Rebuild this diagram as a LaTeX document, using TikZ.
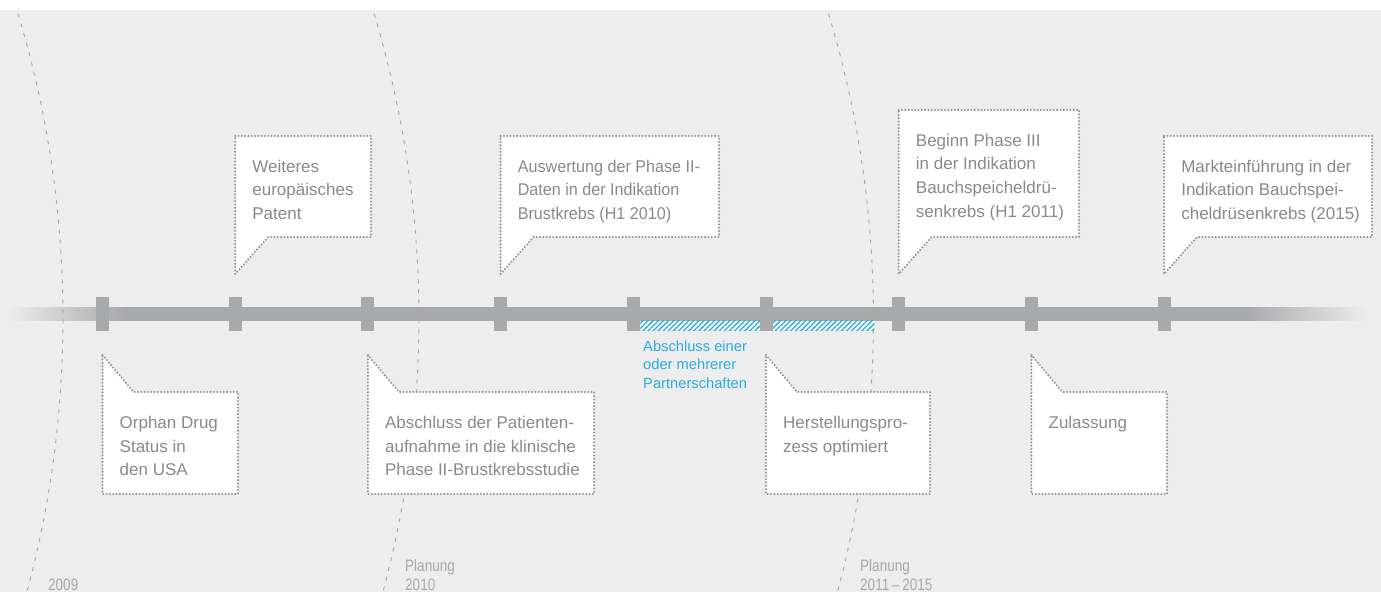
\documentclass[tikz,border=0pt]{standalone}
\usepackage{fontspec}
\setmainfont{Liberation Sans}
\newfontfamily\labelfont[FakeStretch=0.82]{Liberation Sans}
\newfontfamily\narrowfont[FakeStretch=0.95]{Liberation Sans}
\usetikzlibrary{patterns.meta}
\definecolor{bg}{HTML}{EDEDED}
\definecolor{barcol}{HTML}{A8A9AB}
\definecolor{txt}{HTML}{8A8A8A}
\definecolor{lbl}{HTML}{A8A8A8}
\definecolor{dotc}{HTML}{959595}
\definecolor{arcc}{HTML}{A5A5A5}
\definecolor{blueone}{HTML}{2AABE2}
\newcommand\ctext[1]{\parbox[t]{320pt}{\raggedright\fontsize{17}{23.7}\selectfont\leavevmode\color{txt}#1}}
\newcommand\ltext[1]{\parbox[t]{120pt}{\raggedright\labelfont\fontsize{16.5}{19.6}\selectfont\leavevmode\color{lbl}#1}}
\newcommand\topcall[5]{%
  \draw[callout] (#2,#3) -- (#4,#3) -- (#4,237) -- (#2+33,237) -- (#2,274) -- cycle;
  \node[ctxt] (#1) at (#2+17,#3+36) {\ctext{#5}};
}
\newcommand\botcall[4]{%
  \draw[callout] (#2,355) -- (#2+31,392) -- (#3,392) -- (#3,494) -- (#2,494) -- cycle;
  \node[ctxt] (#1) at (#2+17,428.5) {\ctext{#4}};
}
\begin{document}
\begin{tikzpicture}[x=1pt,y=-1pt,
  tickmark/.style={rectangle, fill=barcol, minimum width=13pt, minimum height=34pt, inner sep=0pt},
  callout/.style={fill=white, draw=dotc, line width=2.3pt, dash pattern=on 0pt off 3.3pt, line cap=round, line join=round},
  ctxt/.style={anchor=base west, inner sep=0pt},
  arcline/.style={draw=arcc, line width=0.9pt, dash pattern=on 4pt off 6pt}]
\useasboundingbox (0,0) rectangle (1381,592);
\fill[white] (0,0) rectangle (1381,592);
\fill[bg] (0,10) rectangle (1381,592);
% timeline bar
\shade[left color=bg, right color=barcol] (8,307) rectangle (125,320.5);
\fill[barcol] (124.5,307) rectangle (1245.5,320.5);
\shade[left color=barcol, right color=bg] (1245,307) rectangle (1367,320.5);
% dashed year arcs
\begin{scope}
\clip (0,10) rectangle (1381,592);
\foreach \o in {0,356,810.5}
  \draw[arcline] plot[domain=-16:18, samples=90, variable=\t] ({-993.4+\o+1056.4*cos(\t)}, {318.45-1056.4*sin(\t)});
\end{scope}
% hatched period
\fill[white] (640,320.5) rectangle (874.5,330);
\fill[pattern={Lines[angle=45,distance=3.6pt,line width=1.3pt]}, pattern color=blueone] (640,320.5) rectangle (874.5,330);
% ticks
\foreach \i/\x in {1/102.5,2/235.2,3/367.9,4/500.6,5/633.3,6/766.0,7/898.7,8/1031.4,9/1164.1}
  \node[tickmark] (t\i) at (\x,314) {};
% callouts above
\topcall{c2}{235.2}{136}{371}{Weiteres\\europäisches\\Patent}
\topcall{c4}{500.6}{136}{719}{\narrowfont Auswertung der Phase II-\\Daten in der Indikation\\Brustkrebs (H1 2010)}
\topcall{c7}{898.7}{110}{1079}{Beginn Phase III\\in der Indikation\\Bauchspeicheldrü-\\senkrebs (H1 2011)}
\topcall{c9}{1164.1}{136}{1372}{Markteinführung in der\\Indikation Bauchspei-\\cheldrüsenkrebs (2015)}
% callouts below
\botcall{c1}{102.5}{238}{Orphan Drug\\Status in\\den USA}
\botcall{c3}{367.9}{594}{Abschluss der Patienten-\\aufnahme in die klinische\\Phase II-Brustkrebsstudie}
\botcall{c6}{766.0}{930}{Herstellungspro-\\zess optimiert}
\botcall{c8}{1031.4}{1167}{Zulassung}
% partnership label
\node[ctxt] (partner) at (643,351) {\parbox[t]{200pt}{\raggedright\fontsize{14.7}{18.5}\selectfont\leavevmode\color{blueone}Abschluss einer\\oder mehrerer\\Partnerschaften}};
% period labels
\node[ctxt] (y2009) at (48,590) {\ltext{2009}};
\node[ctxt] (y2010) at (405,571) {\ltext{Planung\\2010}};
\node[ctxt] (y2011) at (860,571) {\ltext{Planung\\2011\,–\,2015}};
\end{tikzpicture}
\end{document}
